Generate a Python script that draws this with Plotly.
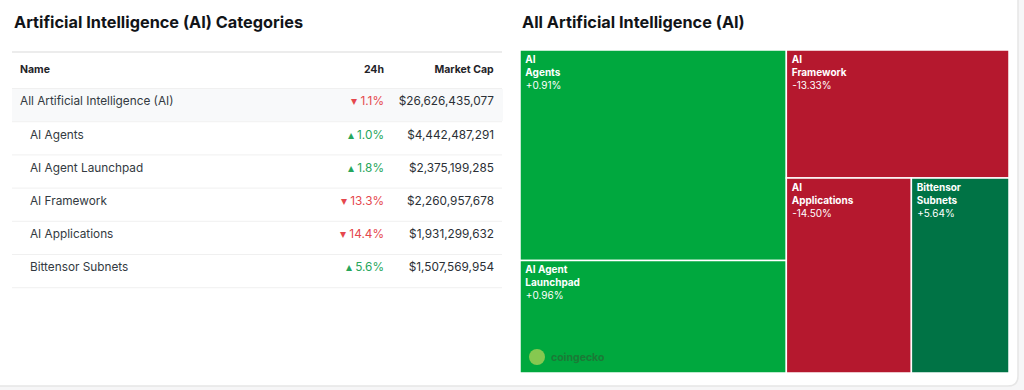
import plotly.graph_objects as go

# ---------------- data ----------------
table_names = ["All Artificial Intelligence (AI)", "AI Agents", "AI Agent Launchpad",
               "AI Framework", "AI Applications", "Bittensor Subnets"]
table_change_24h = [-1.1, 1.0, 1.8, -13.3, -14.4, 5.6]
table_market_cap = [26626435077, 4442487291, 2375199285, 2260957678, 1931299632, 1507569954]

tile_labels = ["AI Agents", "AI Agent Launchpad", "AI Framework", "AI Applications", "Bittensor Subnets"]
tile_display = ["AI<br>Agents", "AI Agent<br>Launchpad", "AI<br>Framework", "AI<br>Applications", "Bittensor<br>Subnets"]
tile_values = [4442487291, 2375199285, 2260957678, 1931299632, 1507569954]
tile_change = [0.91, 0.96, -13.33, -14.50, 5.64]

W, H = 1024, 390
FONT = "Inter, Noto Sans, sans-serif"
UP_C, DOWN_C = "#26a65b", "#e5484d"

def px_x(p):
    return p / W

def px_y(p):
    return 1 - p / H

# ---------------- table ----------------
name_col = [n if i == 0 else "\u00a0\u00a0\u00a0" + n for i, n in enumerate(table_names)]
chg_col = [("\u25be " if c < 0 else "\u25b4 ") + f"{abs(c):.1f}%" for c in table_change_24h]
cap_col = [f"${v:,.0f}" for v in table_market_cap]
chg_colors = [DOWN_C if c < 0 else UP_C for c in table_change_24h]
row_fill = ["#f8f9fa"] + ["#ffffff"] * (len(table_names) - 1)

TOP = 52
HEAD_H = 34
ROW_H = 33.2
SHIFT = 2.5
BOTTOM = TOP + HEAD_H + ROW_H * len(table_names)

table = go.Table(
    domain=dict(x=[px_x(12), px_x(502)], y=[px_y(BOTTOM + SHIFT + 2), px_y(TOP + SHIFT)]),
    columnwidth=[288, 92, 110],
    header=dict(
        values=["<b>Name</b>", "<b>24h</b>", "<b>Market Cap</b>"],
        align=["left", "right", "right"],
        height=HEAD_H,
        fill_color="#ffffff",
        line=dict(color="#ffffff", width=1),
        font=dict(family=FONT, size=10.5, color="#1f2328"),
    ),
    cells=dict(
        values=[name_col, chg_col, cap_col],
        align=["left", "right", "right"],
        height=ROW_H,
        fill_color=[row_fill, row_fill, row_fill],
        line=dict(color=[row_fill, row_fill, row_fill], width=1),
        font=dict(family=FONT, size=11.8,
                  color=[["#333a41"] * len(name_col), chg_colors, ["#2b3036"] * len(cap_col)]),
    ),
)

# ---------------- treemap ----------------
tile_colors = ["#00a83e" if 0 < c < 3 else ("#007345" if c >= 3 else "#b5182e") for c in tile_change]
NB = "\u00a0"
tile_text = [
    "<b>" + "<br>".join(NB + part for part in d.split("<br>")) + "</b><br>" + NB
    + f"{'+' if c > 0 else ''}{c:.2f}%"
    for d, c in zip(tile_display, tile_change)
]

treemap = go.Treemap(
    labels=tile_labels,
    parents=[""] * len(tile_labels),
    values=tile_values,
    text=tile_text,
    texttemplate="%{text}",
    textposition="top left",
    textfont=dict(family=FONT, size=10, color="#ffffff"),
    marker=dict(colors=tile_colors, line=dict(color="#ffffff", width=1.5), pad=dict(t=0, l=0, r=0, b=0)),
    tiling=dict(packing="squarify", squarifyratio=1.14, pad=0),
    pathbar=dict(visible=False),
    sort=True,
    hoverinfo="skip",
    domain=dict(x=[px_x(520), px_x(1009)], y=[px_y(373), px_y(50)]),
)

fig = go.Figure([table, treemap])

# separators for table rows
shapes = []
shapes.append(dict(type="line", xref="paper", yref="paper", x0=px_x(12), x1=px_x(502),
                   y0=px_y(TOP), y1=px_y(TOP), line=dict(color="#ececec", width=2)))
for k in range(0, len(table_names) + 1):
    yy = TOP + HEAD_H + SHIFT + k * ROW_H
    shapes.append(dict(type="line", xref="paper", yref="paper", x0=px_x(12), x1=px_x(502),
                       y0=px_y(yy), y1=px_y(yy), line=dict(color="#f0f0f0", width=1)))

# card outline
shapes.insert(0, dict(type="path", xref="paper", yref="paper", layer="below",
                      path=(f"M {px_x(-10)},{px_y(-10)} L {px_x(1018)},{px_y(-10)} "
                            f"L {px_x(1018)},{px_y(376)} Q {px_x(1018)},{px_y(386)} {px_x(1008)},{px_y(386)} "
                            f"L {px_x(-10)},{px_y(386)} Z"),
                      fillcolor="#ffffff", line=dict(color="#e6e6e6", width=1.5)))
# logo circle
shapes.append(dict(type="circle", xref="paper", yref="paper",
                   x0=px_x(529), x1=px_x(545), y0=px_y(365), y1=px_y(349),
                   fillcolor="#86c850", line=dict(width=0)))

annotations = [
    dict(text="<b>Artificial Intelligence (AI) Categories</b>", x=px_x(12), y=px_y(22),
         xref="paper", yref="paper", xanchor="left", yanchor="middle", showarrow=False,
         font=dict(family=FONT, size=16.3, color="#111418")),
    dict(text="<b>All Artificial Intelligence (AI)</b>", x=px_x(520), y=px_y(22),
         xref="paper", yref="paper", xanchor="left", yanchor="middle", showarrow=False,
         font=dict(family=FONT, size=16.3, color="#111418")),
    dict(text="<b>coingecko</b>", x=px_x(549), y=px_y(357),
         xref="paper", yref="paper", xanchor="left", yanchor="middle", showarrow=False,
         font=dict(family=FONT, size=10.5, color="#1b7a36")),
]

fig.update_layout(
    width=W, height=H,
    margin=dict(l=0, r=0, t=0, b=0),
    paper_bgcolor="#f6f6f7",
    plot_bgcolor="#ffffff",
    shapes=shapes,
    annotations=annotations,
    showlegend=False,
)

fig.write_html("out.html", config={"displayModeBar": False},
               post_script="document.body.style.margin='0px';")
